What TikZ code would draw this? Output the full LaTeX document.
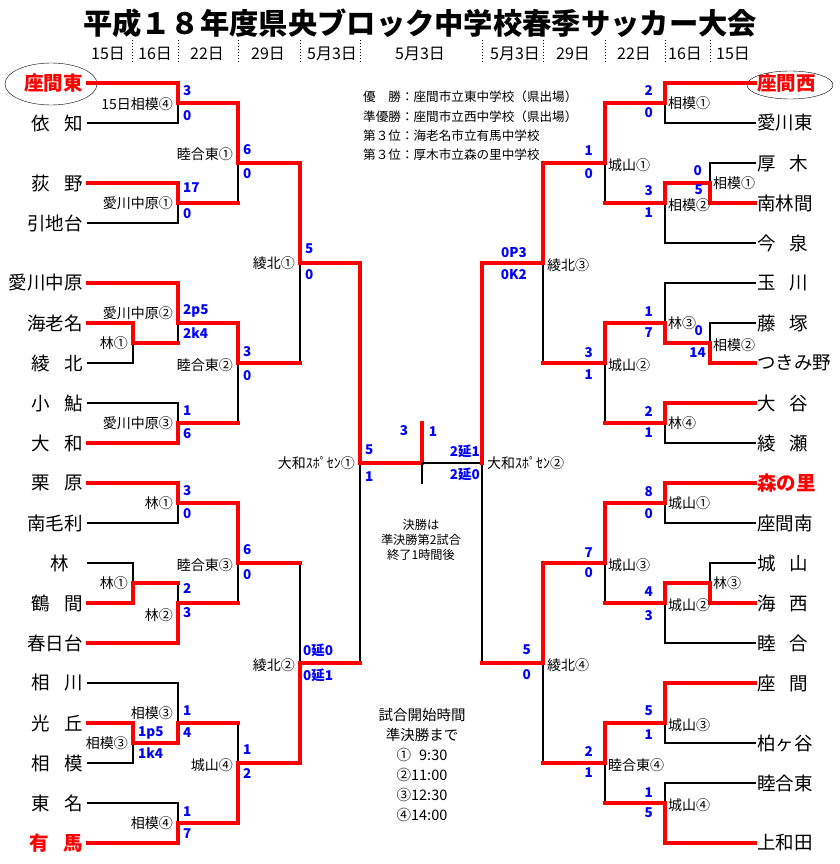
\documentclass[tikz,border=0pt]{standalone}
\usepackage{fontspec}
\setmainfont{Noto Sans CJK JP}
\newcommand\tsp{\kern0.75em}
\begin{document}
\begin{tikzpicture}[x=1pt, y=-1pt,
  win/.style={red, line width=3.2pt, line cap=rect},
  lose/.style={black, line width=2.2pt, line cap=rect},
  datesep/.style={black, line width=1pt, dash pattern=on 1pt off 2pt},
  team/.style={inner sep=0pt, font=\fontsize{18.5}{20}\selectfont},
  topteam/.style={inner sep=0pt, text=red, font=\bfseries\fontsize{19.5}{21}\selectfont},
  game/.style={inner sep=0pt, font=\fontsize{14}{16}\selectfont},
  pts/.style={inner sep=0pt, text=blue, font=\bfseries\fontsize{13.5}{15}\selectfont}]
\useasboundingbox (0,0) rectangle (839,864);

\node[inner sep=0pt, font=\bfseries\fontsize{29.3}{32}\selectfont] (title) at (420,23) {平成１８年度県央ブロック中学校春季サッカー大会};
\foreach \x/\d [count=\n] in {108/15日, 155/16日, 207/22日, 268/29日, 332/5月3日, 420/5月3日, 515/5月3日, 573/29日, 634/22日, 685/16日, 733/15日}
  \node[inner sep=0pt, font=\fontsize{16}{18}\selectfont] (date\n) at (\x,54) {\d};
\foreach \x in {132,178,238,300,360,482,543,605,665,710}
  \draw[datesep] (\x,40) -- (\x,63);

\node[inner sep=0pt, anchor=west, align=left, font=\fontsize{12.6}{19.3}\selectfont] (result) at (363,126)
  {優　勝：座間市立東中学校（県出場）\\準優勝：座間市立西中学校（県出場）\\第３位：海老名市立有馬中学校\\第３位：厚木市立森の里中学校};
\node[inner sep=0pt, align=center, font=\fontsize{12.2}{15}\selectfont] (finalnote) at (421,540)
  {決勝は\\準決勝第2試合\\終了1時間後};
\node[inner sep=0pt, align=center, font=\fontsize{14.5}{20}\selectfont] (times) at (422,765)
  {試合開始時間\\準決勝まで\\①\phantom{1}9:30\\②11:00\\③12:30\\④14:00};

% left side
\node[topteam, anchor=east] (zamahigashi) at (83,83) {座間東};
\node[topteam, anchor=east] (arima) at (83,843) {有\tsp{}馬};
\foreach \y/\t [count=\n] in {123/依\tsp{}知, 183/荻\tsp{}野, 223/引地台, 283/愛川中原, 323/海老名, 363/綾\tsp{}北, 403/小\tsp{}鮎, 443/大\tsp{}和, 483/栗\tsp{}原, 523/南毛利, 563/林\tsp{}, 603/鶴\tsp{}間, 643/春日台, 683/相\tsp{}川, 723/光\tsp{}丘, 763/相\tsp{}模, 803/東\tsp{}名}
  \node[team, anchor=east] (left\n) at (83,\y) {\t};
\draw (51,84) ellipse [x radius=46pt, y radius=21pt];

\draw[lose] (88,123) -- (178,123) -- (178,103);
\draw[lose] (88,223) -- (178,223) -- (178,203);
\draw[lose] (238,163) -- (238,203);
\draw[lose] (300,263) -- (300,363);
\draw[lose] (88,363) -- (133,363) -- (133,343);
\draw[lose] (178,323) -- (178,343);
\draw[lose] (88,403) -- (178,403) -- (178,423);
\draw[lose] (238,363) -- (238,423);
\draw[lose] (360,463) -- (360,663);
\draw[lose] (88,523) -- (178,523) -- (178,503);
\draw[lose] (88,563) -- (133,563) -- (133,583);
\draw[lose] (178,583) -- (178,603);
\draw[lose] (238,563) -- (238,603);
\draw[lose] (300,563) -- (300,663);
\draw[lose] (88,683) -- (178,683) -- (178,723);
\draw[lose] (88,763) -- (133,763) -- (133,743);
\draw[lose] (238,723) -- (238,763);
\draw[lose] (88,803) -- (178,803) -- (178,823);

\draw[win] (88,83) -- (178,83) -- (178,103) -- (238,103) -- (238,163) -- (300,163) -- (300,263) -- (360,263) -- (360,463) -- (422,463) -- (422,423);
\draw[win] (88,183) -- (178,183) -- (178,203) -- (238,203);
\draw[win] (88,283) -- (178,283) -- (178,323) -- (238,323) -- (238,363) -- (300,363);
\draw[win] (88,323) -- (133,323) -- (133,343) -- (178,343);
\draw[win] (88,443) -- (178,443) -- (178,423) -- (238,423);
\draw[win] (88,483) -- (178,483) -- (178,503) -- (238,503) -- (238,563) -- (300,563);
\draw[win] (88,603) -- (133,603) -- (133,583) -- (178,583);
\draw[win] (88,643) -- (178,643) -- (178,603) -- (238,603);
\draw[win] (88,723) -- (133,723) -- (133,743) -- (178,743) -- (178,723) -- (238,723);
\draw[win] (88,843) -- (178,843) -- (178,823) -- (238,823) -- (238,763) -- (300,763) -- (300,663) -- (360,663);

\foreach \x/\y/\t [count=\n] in {173/104/15日相模④, 233/154/睦合東①, 173/203/愛川中原①, 295/263/綾北①, 173/313/愛川中原②, 128/343/林①, 233/365/睦合東②, 173/423/愛川中原③, 355/463/大和ｽﾎﾟｾﾝ①, 173/503/林①, 233/565/睦合東③, 128/583/林①, 173/615/林②, 295/665/綾北②, 173/713/相模③, 128/743/相模③, 233/765/城山④, 173/823/相模④}
  \node[game, anchor=east] (gleft\n) at (\x,\y) {\t};

\foreach \x/\y/\s [count=\n] in {183/91/3, 183/116/0, 243/150/6, 243/174/0, 183/188/17, 183/214/0, 305/249/5, 305/275/0, 183/311/2p5, 183/333/2k4, 243/352/3, 243/376/0, 183/411/1, 183/434/6, 365/450/5, 365/477/1, 183/491/3, 183/514/0, 243/550/6, 243/575/0, 183/588/2, 183/613/3, 303/650/0延0, 303/675/0延1, 183/711/1, 183/733/4, 138/733/1p5, 138/753/1k4, 243/750/1, 243/773/2, 183/812/1, 183/834/7}
  \node[pts, anchor=west] (sleft\n) at (\x,\y) {\s};

% final
\draw[lose] (422,463) -- (482,463);
\draw[lose] (422,463) -- (422,483);
\node[pts] (fin1) at (404,431) {3};
\node[pts] (fin2) at (433,432) {1};

% right side
\node[topteam, anchor=west] (zamanishi) at (757,83) {座間西};
\node[topteam, anchor=west] (morinosato) at (757,483) {森の里};
\foreach \y/\t [count=\n] in {123/愛川東, 163/厚\tsp{}木, 203/南林間, 243/今\tsp{}泉, 283/玉\tsp{}川, 323/藤\tsp{}塚, 363/つきみ野, 403/大\tsp{}谷, 443/綾\tsp{}瀬, 523/座間南, 563/城\tsp{}山, 603/海\tsp{}西, 643/睦\tsp{}合, 683/座\tsp{}間, 743/柏ヶ谷, 783/睦合東, 843/上和田}
  \node[team, anchor=west] (right\n) at (757,\y) {\t};
\draw (790,85) ellipse [x radius=43pt, y radius=14pt];

\draw[lose] (755,123) -- (665,123) -- (665,103);
\draw[lose] (755,163) -- (710,163) -- (710,183);
\draw[lose] (665,203) -- (665,243) -- (755,243);
\draw[lose] (605,163) -- (605,203);
\draw[lose] (543,263) -- (543,363);
\draw[lose] (755,283) -- (665,283) -- (665,323);
\draw[lose] (755,323) -- (710,323) -- (710,343);
\draw[lose] (755,443) -- (665,443) -- (665,423);
\draw[lose] (605,363) -- (605,423);
\draw[lose] (482,463) -- (482,663);
\draw[lose] (755,523) -- (665,523) -- (665,503);
\draw[lose] (755,563) -- (710,563) -- (710,583);
\draw[lose] (665,603) -- (665,643) -- (755,643);
\draw[lose] (605,563) -- (605,603);
\draw[lose] (543,663) -- (543,763);
\draw[lose] (755,743) -- (665,743) -- (665,723);
\draw[lose] (755,783) -- (665,783) -- (665,803);
\draw[lose] (605,763) -- (605,803);

\draw[win] (755,83) -- (665,83) -- (665,103) -- (605,103) -- (605,163) -- (543,163) -- (543,263) -- (482,263) -- (482,463);
\draw[win] (755,203) -- (710,203) -- (710,183) -- (665,183) -- (665,203) -- (605,203);
\draw[win] (755,363) -- (710,363) -- (710,343) -- (665,343) -- (665,323) -- (605,323) -- (605,363) -- (543,363);
\draw[win] (755,403) -- (665,403) -- (665,423) -- (605,423);
\draw[win] (755,483) -- (665,483) -- (665,503) -- (605,503) -- (605,563) -- (543,563) -- (543,663) -- (482,663);
\draw[win] (755,603) -- (710,603) -- (710,583) -- (665,583) -- (665,603) -- (605,603);
\draw[win] (755,683) -- (665,683) -- (665,723) -- (605,723) -- (605,763) -- (543,763);
\draw[win] (755,843) -- (665,843) -- (665,803) -- (605,803);

\foreach \x/\y/\t [count=\n] in {668/103/相模①, 713/183/相模①, 608/165/城山①, 668/205/相模②, 547/265/綾北③, 668/323/林③, 713/345/相模②, 608/365/城山②, 668/423/林④, 487/463/大和ｽﾎﾟｾﾝ②, 668/503/城山①, 608/565/城山③, 713/583/林③, 668/605/城山②, 547/665/綾北④, 668/725/城山③, 608/765/睦合東④, 668/805/城山④}
  \node[game, anchor=west] (gright\n) at (\x,\y) {\t};

\foreach \x/\y/\s [count=\n] in {653/91/2, 653/113/0, 702/171/0, 703/190/5, 593/151/1, 593/174/0, 653/191/3, 653/213/1, 527/253/0P3, 527/275/0K2, 653/312/1, 653/333/7, 703/331/0, 706/353/14, 593/353/3, 593/375/1, 653/412/2, 653/433/1, 480/451/2延1, 480/474/2延0, 653/492/8, 653/514/0, 593/553/7, 593/573/0, 653/592/4, 653/616/3, 531/650/5, 531/675/0, 653/711/5, 653/735/1, 593/751/2, 593/773/1, 653/793/1, 653/813/5}
  \node[pts, anchor=east] (sright\n) at (\x,\y) {\s};
\end{tikzpicture}
\end{document}
